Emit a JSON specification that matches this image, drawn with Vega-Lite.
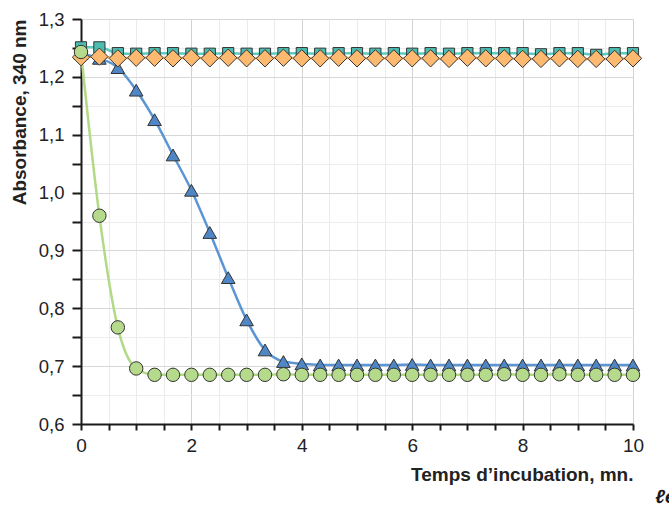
{
  "$schema": "https://vega.github.io/schema/vega-lite/v6.json",
  "width": 552,
  "height": 405,
  "autosize": {"type": "none"},
  "padding": {"left": 81, "top": 19, "right": 36, "bottom": 82},
  "background": "white",
  "config": {
    "view": {"stroke": null},
    "font": "Liberation Sans",
    "axis": {
      "domainColor": "#1a1a1a",
      "domainWidth": 2,
      "tickColor": "#1a1a1a",
      "tickWidth": 2,
      "labelFont": "Liberation Sans",
      "labelColor": "#222222",
      "titleFont": "Liberation Sans",
      "titleFontWeight": "bold",
      "titleColor": "#222222",
      "gridWidth": 1,
      "labelFlush": false
    }
  },
  "title": {"text": "ℓe", "orient": "bottom", "anchor": "end", "dx": 32, "offset": 4, "fontSize": 19, "fontStyle": "italic", "fontWeight": "bold", "font": "Liberation Sans", "color": "#1a1a1a"},
  "data": {
    "values": [
      {"series":"S","z":2,"x":0,"y":1.251},{"series":"S","z":2,"x":0.333,"y":1.251},{"series":"S","z":2,"x":0.667,"y":1.241},{"series":"S","z":2,"x":1,"y":1.24},{"series":"S","z":2,"x":1.333,"y":1.241},{"series":"S","z":2,"x":1.667,"y":1.241},{"series":"S","z":2,"x":2,"y":1.24},{"series":"S","z":2,"x":2.333,"y":1.24},{"series":"S","z":2,"x":2.667,"y":1.241},{"series":"S","z":2,"x":3,"y":1.24},{"series":"S","z":2,"x":3.333,"y":1.24},{"series":"S","z":2,"x":3.667,"y":1.241},{"series":"S","z":2,"x":4,"y":1.241},{"series":"S","z":2,"x":4.333,"y":1.24},{"series":"S","z":2,"x":4.667,"y":1.241},{"series":"S","z":2,"x":5,"y":1.241},{"series":"S","z":2,"x":5.333,"y":1.24},{"series":"S","z":2,"x":5.667,"y":1.241},{"series":"S","z":2,"x":6,"y":1.24},{"series":"S","z":2,"x":6.333,"y":1.241},{"series":"S","z":2,"x":6.667,"y":1.24},{"series":"S","z":2,"x":7,"y":1.241},{"series":"S","z":2,"x":7.333,"y":1.241},{"series":"S","z":2,"x":7.667,"y":1.241},{"series":"S","z":2,"x":8,"y":1.241},{"series":"S","z":2,"x":8.333,"y":1.239},{"series":"S","z":2,"x":8.667,"y":1.241},{"series":"S","z":2,"x":9,"y":1.241},{"series":"S","z":2,"x":9.333,"y":1.238},{"series":"S","z":2,"x":9.667,"y":1.241},{"series":"S","z":2,"x":10,"y":1.241},
      {"series":"D","z":3,"x":0,"y":1.234},{"series":"D","z":3,"x":0.333,"y":1.235},{"series":"D","z":3,"x":0.667,"y":1.232},{"series":"D","z":3,"x":1,"y":1.233},{"series":"D","z":3,"x":1.333,"y":1.233},{"series":"D","z":3,"x":1.667,"y":1.232},{"series":"D","z":3,"x":2,"y":1.233},{"series":"D","z":3,"x":2.333,"y":1.232},{"series":"D","z":3,"x":2.667,"y":1.233},{"series":"D","z":3,"x":3,"y":1.232},{"series":"D","z":3,"x":3.333,"y":1.232},{"series":"D","z":3,"x":3.667,"y":1.233},{"series":"D","z":3,"x":4,"y":1.232},{"series":"D","z":3,"x":4.333,"y":1.232},{"series":"D","z":3,"x":4.667,"y":1.233},{"series":"D","z":3,"x":5,"y":1.232},{"series":"D","z":3,"x":5.333,"y":1.232},{"series":"D","z":3,"x":5.667,"y":1.232},{"series":"D","z":3,"x":6,"y":1.232},{"series":"D","z":3,"x":6.333,"y":1.232},{"series":"D","z":3,"x":6.667,"y":1.231},{"series":"D","z":3,"x":7,"y":1.233},{"series":"D","z":3,"x":7.333,"y":1.232},{"series":"D","z":3,"x":7.667,"y":1.232},{"series":"D","z":3,"x":8,"y":1.231},{"series":"D","z":3,"x":8.333,"y":1.231},{"series":"D","z":3,"x":8.667,"y":1.232},{"series":"D","z":3,"x":9,"y":1.231},{"series":"D","z":3,"x":9.333,"y":1.231},{"series":"D","z":3,"x":9.667,"y":1.231},{"series":"D","z":3,"x":10,"y":1.232},
      {"series":"T","z":1,"x":0,"y":1.24},{"series":"T","z":1,"x":0.333,"y":1.232},{"series":"T","z":1,"x":0.667,"y":1.216},{"series":"T","z":1,"x":1,"y":1.177},{"series":"T","z":1,"x":1.333,"y":1.126},{"series":"T","z":1,"x":1.667,"y":1.065},{"series":"T","z":1,"x":2,"y":1.004},{"series":"T","z":1,"x":2.333,"y":0.931},{"series":"T","z":1,"x":2.667,"y":0.853},{"series":"T","z":1,"x":3,"y":0.78},{"series":"T","z":1,"x":3.333,"y":0.728},{"series":"T","z":1,"x":3.667,"y":0.708},{"series":"T","z":1,"x":4,"y":0.704},{"series":"T","z":1,"x":4.333,"y":0.702},{"series":"T","z":1,"x":4.667,"y":0.702},{"series":"T","z":1,"x":5,"y":0.702},{"series":"T","z":1,"x":5.333,"y":0.702},{"series":"T","z":1,"x":5.667,"y":0.702},{"series":"T","z":1,"x":6,"y":0.703},{"series":"T","z":1,"x":6.333,"y":0.702},{"series":"T","z":1,"x":6.667,"y":0.702},{"series":"T","z":1,"x":7,"y":0.702},{"series":"T","z":1,"x":7.333,"y":0.702},{"series":"T","z":1,"x":7.667,"y":0.702},{"series":"T","z":1,"x":8,"y":0.702},{"series":"T","z":1,"x":8.333,"y":0.702},{"series":"T","z":1,"x":8.667,"y":0.702},{"series":"T","z":1,"x":9,"y":0.702},{"series":"T","z":1,"x":9.333,"y":0.702},{"series":"T","z":1,"x":9.667,"y":0.702},{"series":"T","z":1,"x":10,"y":0.702},
      {"series":"C","z":4,"x":0,"y":1.243},{"series":"C","z":4,"x":0.333,"y":0.96},{"series":"C","z":4,"x":0.667,"y":0.767},{"series":"C","z":4,"x":1,"y":0.696},{"series":"C","z":4,"x":1.333,"y":0.685},{"series":"C","z":4,"x":1.667,"y":0.685},{"series":"C","z":4,"x":2,"y":0.685},{"series":"C","z":4,"x":2.333,"y":0.685},{"series":"C","z":4,"x":2.667,"y":0.685},{"series":"C","z":4,"x":3,"y":0.685},{"series":"C","z":4,"x":3.333,"y":0.685},{"series":"C","z":4,"x":3.667,"y":0.686},{"series":"C","z":4,"x":4,"y":0.685},{"series":"C","z":4,"x":4.333,"y":0.685},{"series":"C","z":4,"x":4.667,"y":0.685},{"series":"C","z":4,"x":5,"y":0.685},{"series":"C","z":4,"x":5.333,"y":0.685},{"series":"C","z":4,"x":5.667,"y":0.685},{"series":"C","z":4,"x":6,"y":0.685},{"series":"C","z":4,"x":6.333,"y":0.685},{"series":"C","z":4,"x":6.667,"y":0.685},{"series":"C","z":4,"x":7,"y":0.685},{"series":"C","z":4,"x":7.333,"y":0.685},{"series":"C","z":4,"x":7.667,"y":0.686},{"series":"C","z":4,"x":8,"y":0.685},{"series":"C","z":4,"x":8.333,"y":0.685},{"series":"C","z":4,"x":8.667,"y":0.686},{"series":"C","z":4,"x":9,"y":0.685},{"series":"C","z":4,"x":9.333,"y":0.685},{"series":"C","z":4,"x":9.667,"y":0.685},{"series":"C","z":4,"x":10,"y":0.685}
    ]
  },
  "encoding": {
    "x": {
      "field": "x", "type": "quantitative",
      "scale": {"domain": [0, 10], "nice": false, "zero": false},
      "axis": {
        "title": "Temps d’incubation, mn.",
        "titleAnchor": "end", "titleFontSize": 19, "titlePadding": 10,
        "values": [0,0.5,1,1.5,2,2.5,3,3.5,4,4.5,5,5.5,6,6.5,7,7.5,8,8.5,9,9.5,10],
        "labelExpr": "datum.value % 2 === 0 ? format(datum.value, 'd') : ''",
        "labelFontSize": 19, "labelPadding": 6, "tickSize": 6,
        "gridColor": {"condition": {"test": "datum.value % 2 === 0", "value": "#d2d2d2"}, "value": "#ebebeb"}
      }
    },
    "y": {
      "field": "y", "type": "quantitative",
      "scale": {"domain": [0.6, 1.3], "nice": false, "zero": false},
      "axis": {
        "title": "Absorbance, 340 nm",
        "titleAnchor": "end", "titleFontSize": 19, "titlePadding": 9,
        "values": [0.6,0.65,0.7,0.75,0.8,0.85,0.9,0.95,1.0,1.05,1.1,1.15,1.2,1.25,1.3],
        "labelExpr": "abs(datum.value*10 - round(datum.value*10)) < 0.01 ? replace(format(datum.value, '.1f'), '.', ',') : ''",
        "labelFontSize": 18.5, "labelPadding": 8, "tickSize": 9,
        "gridColor": {"condition": {"test": "abs(datum.value*10 - round(datum.value*10)) < 0.01", "value": "#d7d7d7"}, "value": "#ececec"}
      }
    }
  },
  "layer": [
    {
      "mark": {"type": "line", "interpolate": "monotone", "strokeWidth": 2.5},
      "encoding": {
        "stroke": {
          "field": "series", "type": "nominal", "legend": null,
          "scale": {"domain": ["T", "S", "D", "C"], "range": ["#5b95d3", "#5dcbc0", "#f9b56b", "#b2da86"]}
        }
      }
    },
    {
      "mark": {"type": "point", "filled": true, "stroke": "#333333", "strokeWidth": 1, "opacity": 1},
      "encoding": {
        "fill": {
          "field": "series", "type": "nominal", "legend": null,
          "scale": {"domain": ["T", "S", "D", "C"], "range": ["#4f86c6", "#4cbcb0", "#fdb96f", "#b6da8b"]}
        },
        "shape": {
          "field": "series", "type": "nominal", "legend": null,
          "scale": {"domain": ["T", "S", "D", "C"], "range": ["triangle-up", "square", "diamond", "circle"]}
        },
        "size": {
          "field": "series", "type": "nominal", "legend": null,
          "scale": {"type": "ordinal", "domain": ["T", "S", "D", "C"], "range": [185, 125, 300, 180]}
        },
        "order": {"field": "z", "type": "quantitative"}
      }
    }
  ]
}
